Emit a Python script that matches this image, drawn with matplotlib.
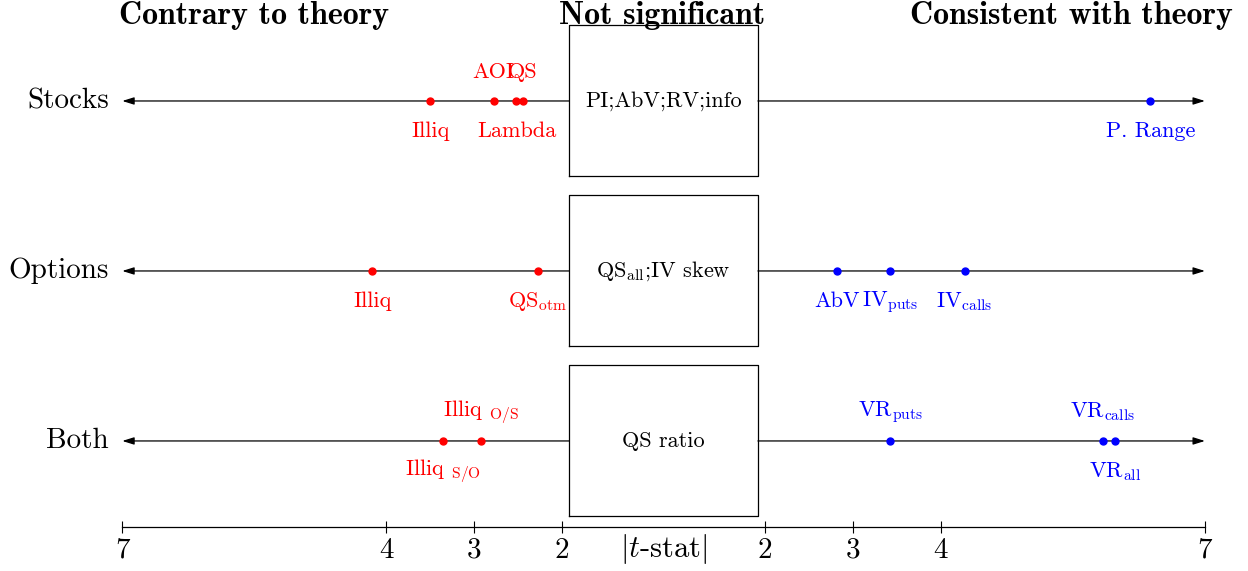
import numpy as np
import matplotlib
matplotlib.use("Agg")
import matplotlib.pyplot as plt

plt.rcParams['font.family'] = 'cmr10'
plt.rcParams['mathtext.fontset'] = 'cm'
plt.rcParams['axes.unicode_minus'] = False

# rows, top to bottom
rows = ["Stocks", "Options", "Both"]
row_y = [2, 1, 0]
box_text = ["PI;AbV;RV;info", r"QS$_{\rm all}$;IV skew", "QS ratio"]

# signed t-stats: negative = contrary to theory, positive = consistent
stocks_t = [-3.50, -2.78, -2.45, -2.52, 6.38]
stocks_lab = ["Illiq", "AOI", "QS", "Lambda", "P. Range"]
stocks_pos = ["below", "above", "above", "below", "below"]

options_t = [-4.16, -2.28, 2.82, 3.42, 4.27]
options_lab = ["Illiq", r"QS$_{\rm otm}$", "AbV", r"IV$_{\rm puts}$", r"IV$_{\rm calls}$"]
options_pos = ["below", "below", "below", "below", "below"]

both_t = [-3.35, -2.92, 3.42, 5.84, 5.98]
both_lab = [r"Illiq ${}_{\rm S/O}$", r"Illiq ${}_{\rm O/S}$", r"VR$_{\rm puts}$",
            r"VR$_{\rm calls}$", r"VR$_{\rm all}$"]
both_pos = ["below", "above", "above", "above", "below"]

tick_vals = [-7, -4, -3, -2, 2, 3, 4, 7]
headers = ["Contrary to theory", "Not significant", "Consistent with theory"]

# axis: |t| >= 2 linear on each side, with a gap for the insignificant box
HALF = 1.153
OFF = 2 - HALF


def fwd(t):
    t = np.asarray(t, dtype=float)
    a = np.abs(t)
    return np.where(a >= 2, np.sign(t) * (a - OFF), t * HALF / 2)


def inv(p):
    p = np.asarray(p, dtype=float)
    a = np.abs(p)
    return np.where(a >= HALF, np.sign(p) * (a + OFF), p * 2 / HALF)


fig = plt.figure(figsize=(12.48, 5.71), dpi=100)
ax = fig.add_axes([0, 0, 1, 1])
ax.set_xscale('function', functions=(fwd, inv))
ax.set_xlim(-8.39, 7.49)
ax.set_ylim(-0.765, 2.594)

red = '#ff0000'
blue = '#0000ff'
box_t = 1.86
box_h = 0.444

data = [(stocks_t, stocks_lab, stocks_pos),
        (options_t, options_lab, options_pos),
        (both_t, both_lab, both_pos)]

for name, y, btxt, (ts, labs, poss) in zip(rows, row_y, box_text, data):
    arrow = dict(arrowstyle='-|>,head_length=0.7,head_width=0.22', color='black',
                 lw=0.9, shrinkA=0, shrinkB=0)
    ax.annotate("", xy=(-7, y), xytext=(-box_t, y), arrowprops=arrow)
    ax.annotate("", xy=(7, y), xytext=(box_t, y), arrowprops=arrow)
    ax.plot([-box_t, box_t, box_t, -box_t, -box_t],
            [y - box_h, y - box_h, y + box_h, y + box_h, y - box_h],
            color='black', lw=0.9)
    ax.text(0, y, btxt, ha='center', va='center', fontsize=16)
    ax.text(-7.15, y, name, ha='right', va='center', fontsize=21)
    for t, lab, pos in zip(ts, labs, poss):
        c = red if t < 0 else blue
        ax.plot(t, y, 'o', color=c, ms=5, zorder=3)
        dy = 21 if pos == "above" else -22
        ax.annotate(lab, (t, y), xytext=(0, dy), textcoords='offset points',
                    ha='center', va='center', color=c, fontsize=16)

# bottom t-stat axis
for s in ['top', 'left', 'right']:
    ax.spines[s].set_visible(False)
ax.spines['bottom'].set_position(('data', -0.506))
ax.spines['bottom'].set_bounds(-7, 7)
ax.spines['bottom'].set_linewidth(0.9)
ax.set_xticks(tick_vals)
ax.set_xticklabels([str(abs(v)) for v in tick_vals])
ax.minorticks_off()
ax.tick_params(axis='x', direction='inout', length=9, width=0.8, labelsize=21, pad=3)
ax.set_yticks([])
ax.text(0, -0.635, r"$|t$-stat$|$", ha='center', va='center', fontsize=22)

for hx, h in zip([-5.50, -0.03, 5.48], headers):
    ax.text(hx, 2.50, h, ha='center', va='center', fontsize=23, family='cmb10')

fig.savefig("out.png", dpi=100)
